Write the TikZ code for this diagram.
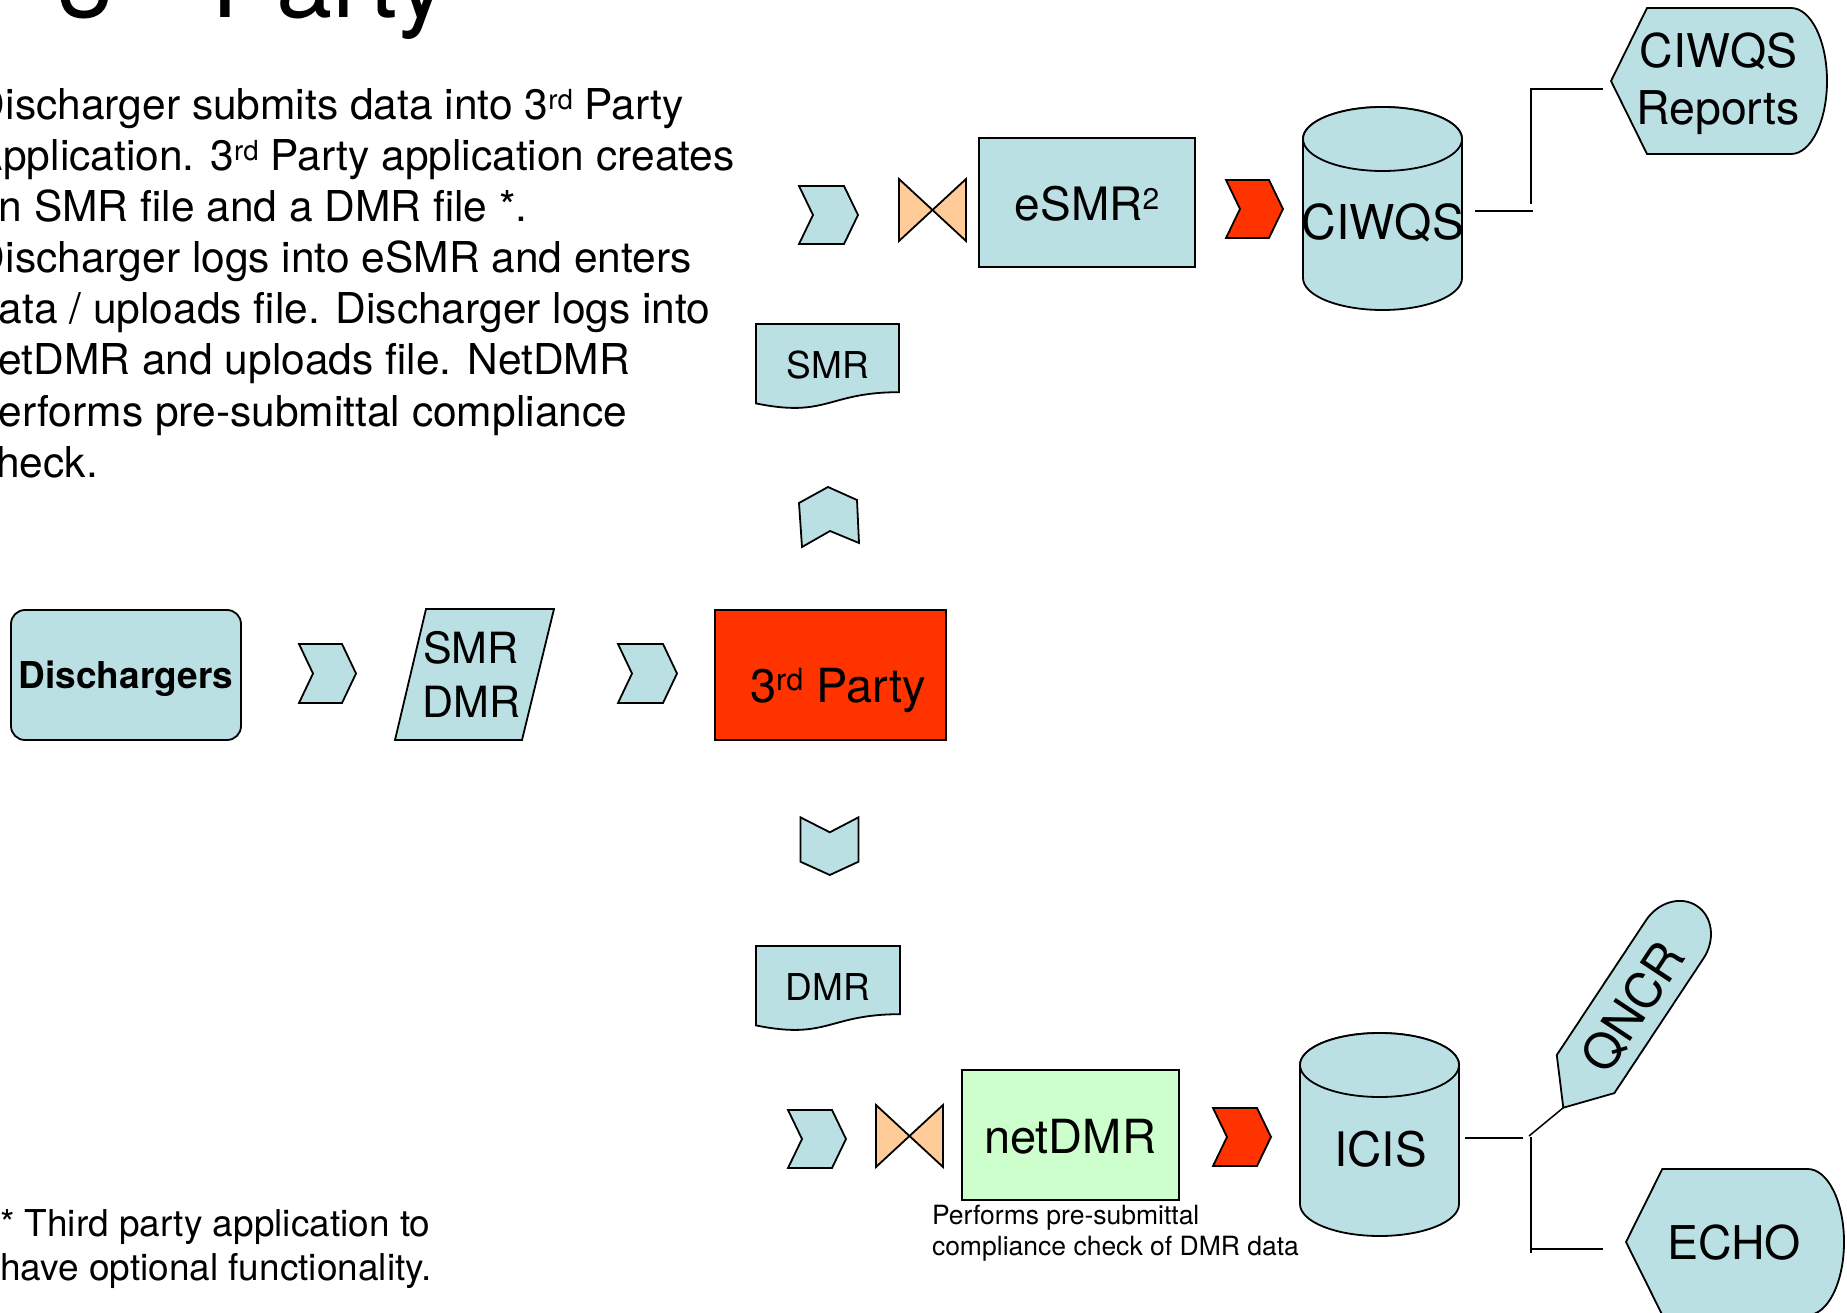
\documentclass[tikz,border=0pt]{standalone}
\usepackage{fontspec}
\setmainfont{TeX Gyre Heros}
\usepackage{graphicx}
\definecolor{lb}{HTML}{BBE0E3}
\definecolor{redf}{HTML}{FF3300}
\definecolor{peach}{HTML}{FFCC99}
\definecolor{lgreen}{HTML}{CCFFCC}
\newcommand{\sups}[1]{\raisebox{0.25em}{\scalebox{0.65}{#1}}}
\begin{document}
\begin{tikzpicture}[x=1pt,y=-1pt,
  shp/.style={draw=black, line width=1.8pt, line join=miter},
  bluesh/.style={shp, fill=lb},
  redsh/.style={shp, fill=redf},
  peachsh/.style={shp, fill=peach},
  greensh/.style={shp, fill=lgreen},
  conn/.style={draw=black, line width=1.5pt},
  txt/.style={inner sep=0pt, outer sep=0pt, text=black},
  bodytxt/.style={txt, anchor=base west, font=\fontsize{42.5}{51}\selectfont},
  foot/.style={txt, anchor=base west, font=\fontsize{37}{44}\selectfont},
  capt/.style={txt, anchor=base west, font=\fontsize{26.5}{31}\selectfont},
  lbl/.style={txt, anchor=base, font=\fontsize{47}{57}\selectfont},
  ]
\useasboundingbox (0,0) rectangle (1847,1313);
\clip (0,0) rectangle (1847,1313);

% title (cut at top)
\node[txt, anchor=base west, font=\fontsize{101}{120}\selectfont] (title) at (57.7,17.5) {3\raisebox{0.25em}{\scalebox{0.78}{rd}} Party};

% body text (cut at left)
\node[bodytxt] (b1) at (-25,120) {Discharger submits data into 3\sups{rd} Party};
\node[bodytxt] (b2) at (-25,171) {Application. 3\sups{rd} Party application creates};
\node[bodytxt] (b3) at (-25,222) {an SMR file and a DMR file *.};
\node[bodytxt] (b4) at (-25,273) {Discharger logs into eSMR and enters};
\node[bodytxt] (b5) at (-25,324) {data / uploads file. Discharger logs into};
\node[bodytxt] (b6) at (-25,375) {netDMR and uploads file. NetDMR};
\node[bodytxt] (b7) at (-25,426) {performs pre-submittal compliance};
\node[bodytxt] (b8) at (-25,477) {check.};

% footnote
\node[foot] (f1) at (0,1236) {* Third party application to};
\node[foot] (f2) at (0,1280) {have optional functionality.};

% middle row
\draw[bluesh, rounded corners=14pt] (11,610) rectangle (241,740);
\node[txt, anchor=base, font=\bfseries\fontsize{37}{44}\selectfont] (dis) at (126,688) {Dischargers};

\draw[bluesh] (299,644) -- (342,644) -- (356,673.5) -- (342,703) -- (299,703) -- (313,673.5) -- cycle;

\draw[bluesh] (426,609) -- (554,609) -- (522,740) -- (395,740) -- cycle;
\node[txt, anchor=base west, font=\fontsize{43}{54}\selectfont] (smrdmr1) at (423,663) {SMR};
\node[txt, anchor=base west, font=\fontsize{43}{54}\selectfont] (smrdmr2) at (422.7,717) {DMR};

\draw[bluesh] (618,644) -- (663,644) -- (677,673.5) -- (663,703) -- (618,703) -- (632,673.5) -- cycle;

\draw[redsh] (715,610) rectangle (946,740);
\node[txt, anchor=base west, font=\fontsize{47}{57}\selectfont] (third) at (750,702) {3\sups{rd} Party};

% up and down arrows
\draw[bluesh] (799,503) -- (828,487) -- (857,500) -- (859,543) -- (830,531) -- (802,547) -- cycle;
\draw[bluesh] (800.4,817.3) -- (829.8,832.3) -- (858.5,817.3) -- (858.5,861.7) -- (829.8,875) -- (800.4,861.7) -- cycle;

% SMR / DMR documents
\draw[bluesh] (756,324) -- (899,324) -- (899,392.2) .. controls (827.5,392.2) and (827.5,418.1) .. (756,403.4) -- cycle;
\node[txt, anchor=base, font=\fontsize{37}{44}\selectfont] (smr) at (828,379) {SMR};
\draw[bluesh] (756,946) -- (900,946) -- (900,1014.2) .. controls (828,1014.2) and (828,1040.1) .. (756,1025.4) -- cycle;
\node[txt, anchor=base, font=\fontsize{37}{44}\selectfont] (dmr) at (828,1000.5) {DMR};

% top row
\draw[bluesh] (799,186) -- (844,186) -- (858,215) -- (844,244) -- (799,244) -- (813,215) -- cycle;
\draw[peachsh] (899,179) -- (966,241) -- (966,179) -- (899,241) -- cycle;
\draw[bluesh] (979,138) rectangle (1195,267);
\node[txt, anchor=base, font=\fontsize{46}{54}\selectfont] (esmr) at (1087,221) {eSMR\sups{2}};
\draw[redsh] (1226,180) -- (1269,180) -- (1283,209) -- (1269,238) -- (1226,238) -- (1240,209) -- cycle;

\draw[bluesh] (1303,139) -- (1303,278) arc[start angle=180,end angle=0,x radius=79.5,y radius=32] -- (1462,139) arc[start angle=0,end angle=-180,x radius=79.5,y radius=32] -- cycle;
\draw[bluesh] (1382.5,139) ellipse[x radius=79.5, y radius=32];
\node[txt, anchor=base, font=\fontsize{48}{57}\selectfont] (ciwqs) at (1383,240) {CIWQS};

\draw[bluesh] (1611,81) -- (1647,8) -- (1791,8) arc[start angle=-90,end angle=90,x radius=36,y radius=73] -- (1647,154) -- cycle;
\node[txt, anchor=base, font=\fontsize{46.5}{57}\selectfont] (rep1) at (1718.5,67.5) {CIWQS};
\node[txt, anchor=base, font=\fontsize{46.5}{57}\selectfont] (rep2) at (1718,125) {Reports};

\coordinate (a1) at (1475,211);
\coordinate (a2) at (1533,211);
\coordinate (a3) at (1531,204);
\coordinate (a4) at (1531,89);
\coordinate (a5) at (1603,89);
\draw[conn] (a1) -- (a2);
\draw[conn] (a3) -- (a4) -- (a5);

% bottom row
\draw[bluesh] (788,1110) -- (832,1110) -- (846,1139) -- (832,1168) -- (788,1168) -- (802,1139) -- cycle;
\draw[peachsh] (876,1105) -- (943,1167) -- (943,1105) -- (876,1167) -- cycle;
\draw[greensh] (962,1070) rectangle (1179,1200);
\node[lbl] (netdmr) at (1070,1153) {netDMR};
\node[capt] (cap1) at (932,1224) {Performs pre-submittal};
\node[capt] (cap2) at (932,1255) {compliance check of DMR data};
\draw[redsh] (1213,1108) -- (1257,1108) -- (1271,1137) -- (1257,1166) -- (1213,1166) -- (1227,1137) -- cycle;

\draw[bluesh] (1300,1065) -- (1300,1204) arc[start angle=180,end angle=0,x radius=79.5,y radius=32] -- (1459,1065) arc[start angle=0,end angle=-180,x radius=79.5,y radius=32] -- cycle;
\draw[bluesh] (1379.5,1065) ellipse[x radius=79.5, y radius=32];
\node[txt, anchor=base, font=\fontsize{47.5}{57}\selectfont] (icis) at (1380.5,1166) {ICIS};

\begin{scope}[shift={(1563.3,1107.7)}, rotate=56.5]
\draw[bluesh] (0,0) -- (40.3,-34.5) -- (201.7,-34.5) arc[start angle=-90,end angle=90,x radius=40.3,y radius=34.5] -- (201.7,34.5) -- (40.3,34.5) -- cycle;
\end{scope}
\node[txt, rotate=56.5, text height=35pt, text depth=0pt, font=\fontsize{49}{57}\selectfont] (qncr) at (1633,1007) {QNCR};

\draw[bluesh] (1626,1242) -- (1662.3,1169) -- (1807.7,1169) arc[start angle=-90,end angle=90,x radius=36.3,y radius=73] -- (1662.3,1315) -- cycle;
\node[txt, anchor=base, font=\fontsize{46.5}{57}\selectfont] (echo) at (1734,1259) {ECHO};

\coordinate (i1) at (1465,1138);
\coordinate (i2) at (1523,1138);
\coordinate (i3) at (1531,1137);
\coordinate (i4) at (1531,1253);
\coordinate (i5) at (1531,1249);
\coordinate (i6) at (1603,1249);
\coordinate (i7) at (1529,1136);
\coordinate (i8) at (1563.3,1107.7);
\draw[conn] (i1) -- (i2);
\draw[conn] (i3) -- (i4);
\draw[conn] (i5) -- (i6);
\draw[conn] (i7) -- (i8);
\end{tikzpicture}
\end{document}
